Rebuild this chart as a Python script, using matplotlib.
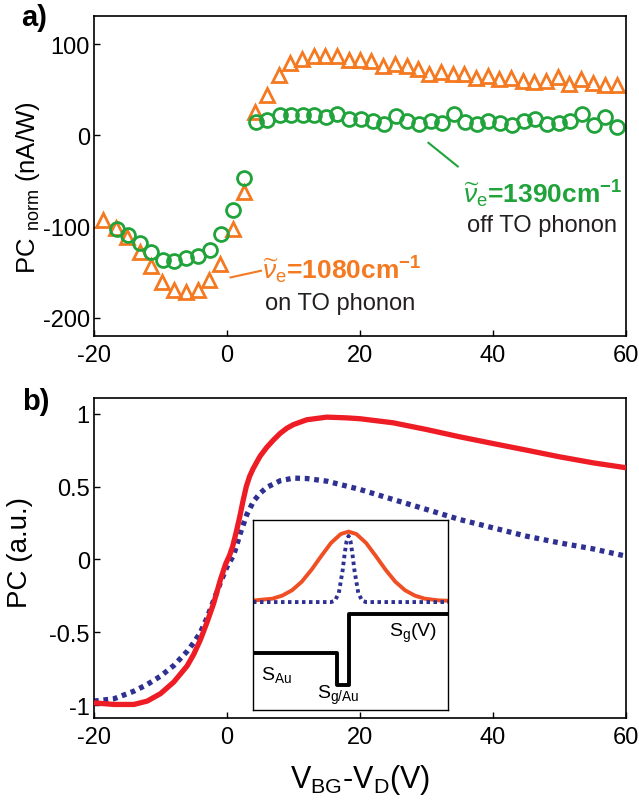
import numpy as np
import matplotlib.pyplot as plt

plt.rcParams['font.family'] = ['Liberation Sans', 'DejaVu Sans']
plt.rcParams['mathtext.fontset'] = 'custom'
plt.rcParams['mathtext.rm'] = 'Liberation Sans'
plt.rcParams['mathtext.it'] = 'Liberation Sans:italic'
plt.rcParams['mathtext.bf'] = 'Liberation Sans:bold'
plt.rcParams['mathtext.fallback'] = 'stixsans'
plt.rcParams['axes.unicode_minus'] = False

# ---- panel a: normalised photocurrent ----
tri_x = [-18.65, -16.75, -14.97, -13.07, -11.42, -9.7, -7.92, -6.14, -4.43, -2.65, -0.99,
         0.85, 2.56, 4.28, 6.06, 7.78, 9.43, 11.27, 13.1, 14.8, 16.5, 18.3, 20.0, 21.7,
         23.5, 25.2, 27.0, 28.7, 30.4, 32.2, 34.0, 35.7, 37.5, 39.2, 40.9, 42.7, 44.5,
         46.2, 47.9, 49.8, 51.5, 53.3, 55.1, 56.9, 58.6]
tri_y = [-92.7, -101.5, -111.7, -128.2, -142.9, -161, -169, -172, -170, -159, -141,
         -102.6, -62, 25.6, 44.7, 66.7, 79.9, 84.2, 86.8, 86.8, 86.8, 83, 83, 82,
         75.8, 78, 75.8, 72.5, 67.8, 69.6, 67.8, 67.8, 63, 65.2, 61.5, 63.4, 59.7,
         58.6, 60, 63.7, 56.8, 62.3, 57.5, 55.7, 55.7]

circ_x = [-16.6, -14.9, -13.1, -11.4, -9.6, -7.9, -6.1, -4.4, -2.6, -0.87, 0.9, 2.56,
          4.3, 6.05, 7.9, 9.55, 11.4, 13.1, 14.9, 16.6, 18.4, 20.1, 21.9, 23.6, 25.4,
          27.1, 28.9, 30.6, 32.4, 34.1, 35.8, 37.6, 39.3, 41.1, 42.8, 44.7, 46.3, 48.1,
          49.9, 51.6, 53.4, 55.2, 56.9, 58.7]
circ_y = [-102.6, -109, -118, -128, -136.6, -138, -134.8, -132.6, -125.3, -108.4, -81.3,
          -46.9, 14.7, 16.5, 22, 22, 22, 22, 20.1, 23.8, 18.3, 18.3, 15.4, 12.1, 21.2,
          15.4, 12.5, 16.1, 13.6, 23.8, 14.3, 12.8, 15.8, 13.2, 11.7, 15.4, 17.6, 12.5,
          13.6, 15.4, 23.8, 11, 20.1, 9.2]

# ---- panel b: model photocurrent ----
red_x = [-20, -17, -14, -12, -10, -8, -6, -5, -4, -3, -2, -1, -0.2, 0.4, 0.85, 1.4, 1.95,
         2.4, 2.9, 3.4, 3.9, 4.5, 5.0, 6.0, 7.0, 8.0, 9.0, 10, 12, 15, 18, 20, 25, 30, 35,
         40, 45, 50, 55, 60]
red_y = [-0.983, -0.994, -0.994, -0.971, -0.92, -0.84, -0.73, -0.65, -0.55, -0.43, -0.30,
         -0.14, -0.03, 0.03, 0.09, 0.19, 0.30, 0.40, 0.50, 0.57, 0.62, 0.67, 0.71, 0.77,
         0.82, 0.865, 0.90, 0.925, 0.958, 0.976, 0.971, 0.965, 0.937, 0.891, 0.841, 0.795,
         0.75, 0.704, 0.663, 0.629]

blue_x = [-20, -17, -14, -12, -10, -8, -6, -5, -4, -3, -2, -1, 0, 1, 2, 3, 4, 5, 6, 8,
          10, 12, 15, 18, 20, 25, 30, 35, 40, 45, 50, 55, 60]
blue_y = [-0.971, -0.955, -0.903, -0.857, -0.80, -0.727, -0.63, -0.57, -0.50, -0.40,
          -0.28, -0.16, -0.05, 0.03, 0.18, 0.31, 0.40, 0.455, 0.495, 0.54, 0.558, 0.555,
          0.537, 0.503, 0.48, 0.411, 0.343, 0.274, 0.217, 0.16, 0.114, 0.073, 0.023]

# ---- inset schematic (inset units 0..1) ----
wide_x = [0, 0.1, 0.15, 0.2, 0.25, 0.3, 0.35, 0.4, 0.45, 0.49, 0.53, 0.58, 0.63, 0.68,
          0.73, 0.78, 0.83, 0.88, 0.95, 1.0]
wide_y = [0.576, 0.586, 0.602, 0.630, 0.675, 0.738, 0.810, 0.879, 0.926, 0.939, 0.926,
          0.879, 0.810, 0.738, 0.675, 0.630, 0.602, 0.586, 0.577, 0.575]
narrow_x = [0, 0.40, 0.42, 0.44, 0.46, 0.47, 0.48, 0.49, 0.50, 0.51, 0.52, 0.54, 0.56,
            0.58, 1.0]
narrow_y = [0.568, 0.568, 0.575, 0.615, 0.737, 0.821, 0.889, 0.916, 0.889, 0.821, 0.737,
            0.615, 0.575, 0.568, 0.568]
step_x = [0, 0.432, 0.432, 0.491, 0.491, 1.0]
step_y = [0.302, 0.302, 0.13, 0.13, 0.504, 0.504]

orange = '#f47920'
green = '#1fa33a'
red = '#ee1c25'
navy = '#2e3192'

fig = plt.figure(figsize=(6.39, 8.04), dpi=100)
ax1 = fig.add_axes([0.1471, 0.5808, 0.8326, 0.398])
ax2 = fig.add_axes([0.1471, 0.1057, 0.8326, 0.398])

ax1.plot(tri_x, tri_y, linestyle='none', marker='^', ms=10.5, mfc='none', mec=orange, mew=2)
ax1.plot(circ_x, circ_y, linestyle='none', marker='o', ms=10, mfc='none', mec=green, mew=2)
ax1.set_xlim(-20, 60)
ax1.set_ylim(-220, 131)
ax1.set_xticks([-20, 0, 20, 40, 60])
ax1.set_yticks([-200, -100, 0, 100])
ax1.set_ylabel(r'PC $_{\rm norm}$ (nA/W)', fontsize=18.5)
ax1.yaxis.set_label_coords(-0.098, 0.466)

ax1.plot([0.54, 5.1], [-155.7, -148.4], color=orange, lw=1.5)
ax1.text(5.3, -147, r'$\widetilde{\nu}_{\rm e}$' + '=1080cm' + r'$^{\mathbf{-1}}$',
         color=orange, fontsize=19, fontweight='bold', ha='left', va='center')
ax1.text(5.75, -184, 'on TO phonon', fontsize=17, color='#231f20', ha='left', va='center')
ax1.plot([30.3, 34.7], [-8.1, -34], color=green, lw=1.5)
ax1.text(35.5, -63, r'$\widetilde{\nu}_{\rm e}$' + '=1390cm' + r'$^{\mathbf{-1}}$',
         color=green, fontsize=19, fontweight='bold', ha='left', va='center')
ax1.text(36.1, -98, 'off TO phonon', fontsize=17, color='#231f20', ha='left', va='center')

ax2.plot(red_x, red_y, color=red, lw=3.8, solid_capstyle='butt', zorder=3)
ax2.plot(blue_x, blue_y, color=navy, lw=3.8, linestyle=(0, (0.9, 0.9)), zorder=2)
ax2.set_xlim(-20, 60)
ax2.set_ylim(-1.087, 1.107)
ax2.set_xticks([-20, 0, 20, 40, 60])
ax2.set_yticks([-1, -0.5, 0, 0.5, 1])
ax2.set_yticklabels(['-1', '-0.5', '0', '0.5', '1'])
ax2.set_ylabel('PC (a.u.)', fontsize=20)
ax2.yaxis.set_label_coords(-0.115, 0.519)
ax2.set_xlabel(r'V$_{\rm BG}$-V$_{\rm D}$(V)', fontsize=22, labelpad=10)

for ax in (ax1, ax2):
    ax.tick_params(direction='in', length=4, width=1, labelsize=17, top=False, right=False)
    ax.tick_params(axis='y', pad=3)
    ax.tick_params(axis='x', pad=6)
    for s in ax.spines.values():
        s.set_linewidth(1.2)

fig.text(0.054, 0.978, 'a)', fontsize=21, fontweight='bold', ha='center', va='center')
fig.text(0.056, 0.500, 'b)', fontsize=21, fontweight='bold', ha='center', va='center')

ins = fig.add_axes([0.3959, 0.1157, 0.3052, 0.2363])
ins.plot(wide_x, wide_y, color='#f04e23', lw=2.8)
ins.plot(narrow_x, narrow_y, color=navy, lw=2.8, linestyle=(0, (0.9, 0.9)))
ins.plot(step_x, step_y, color='black', lw=2.8)
ins.set_xlim(0, 1)
ins.set_ylim(0, 1)
ins.set_xticks([])
ins.set_yticks([])
for s in ins.spines.values():
    s.set_linewidth(1.0)
ins.text(0.04, 0.19, r'S$_{\rm Au}$', fontsize=14, ha='left', va='center')
ins.text(0.33, 0.08, r'S$_{\rm g/Au}$', fontsize=14, ha='left', va='center')
ins.text(0.70, 0.41, r'S$_{\rm g}$(V)', fontsize=14, ha='left', va='center')

plt.savefig('out.png', dpi=100)
